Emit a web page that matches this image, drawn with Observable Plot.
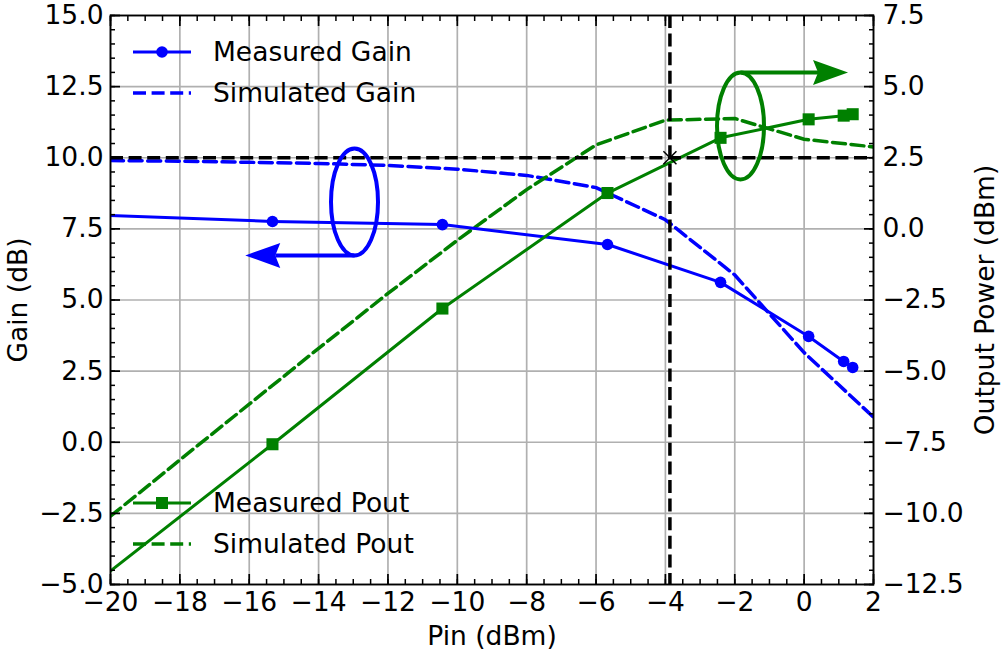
<!DOCTYPE html>
<html>
<head>
<meta charset="utf-8">
<script src="https://cdn.jsdelivr.net/npm/d3@7"></script>
<script src="https://cdn.jsdelivr.net/npm/@observablehq/plot@0.6"></script>
<style>
  body { margin: 0; background: #fff; }
  #chart svg { display: block; }
  #chart svg text { font-family: "DejaVu Sans", sans-serif; font-size: 26.5px; }
</style>
</head>
<body>
<div id="chart"></div>
<script>
// Measured input sweep (Pin in dBm), gain (dB) and output power (dBm)
const pinMeas  = [-25, -15.33, -10.43, -5.67, -2.41, 0.13, 1.14, 1.40];
const gainMeas = [8.20, 7.76, 7.65, 6.95, 5.62, 3.72, 2.84, 2.63];
const poutMeas = [-16.80, -7.57, -2.80, 1.26, 3.20, 3.85, 3.98, 4.03];

// Simulated sweep, 2 dB steps
const pinSim  = [-20, -18, -16, -14, -12, -10, -8, -6, -4, -2, 0, 2];
const gainSim = [9.90, 9.88, 9.84, 9.80, 9.73, 9.60, 9.38, 8.95, 7.82, 5.88, 3.15, 0.88];
const poutSim = [-10.10, -8.12, -6.16, -4.20, -2.27, -0.40, 1.38, 2.95, 3.82, 3.88, 3.15, 2.88];

// Reference lines: 10 dB gain target and the matching input level
const refGain = 10;
const refPin = -3.87;

// Axis ranges and tick values
const xTicks = d3.range(-20, 2.001, 2);
const xMinor = d3.range(-20, 2.001, 0.5);
const gainTicks = d3.range(-5, 15.001, 2.5);
const gainMinor = d3.range(-5, 15.001, 0.5);
// Output power axis is the gain axis shifted by this offset
const poutOffset = 7.5;

// Legend entries and annotation positions (data units)
const legendGain = ["Measured Gain", "Simulated Gain"];
const legendPout = ["Measured Pout", "Simulated Pout"];
const gainCallout = {pin: -12.95, gain: 8.43, tip: -16.1};
const poutCallout = {pin: -1.82, gain: 11.10, tip: 1.28};

const BLUE = "#0000ff", GREEN = "#008000";
const FONT = "DejaVu Sans, sans-serif";
const FS = 26.5;
const minus = s => s.replace(/-/g, "\u2212");

const measured = pinMeas.map((p, i) => ({pin: p, gain: gainMeas[i], pout: poutMeas[i]}));
const simulated = pinSim.map((p, i) => ({pin: p, gain: gainSim[i], pout: poutSim[i]}));

const dash = "13,5.6";
const blank = () => "";

const plot = Plot.plot({
  width: 1001,
  height: 655,
  marginLeft: 110,
  marginRight: 128,
  marginTop: 15,
  marginBottom: 71,
  style: {fontFamily: FONT, fontSize: FS + "px", color: "black", background: "white"},
  x: {domain: [-20, 2]},
  y: {domain: [-5, 15]},
  marks: [
    Plot.gridX(xTicks, {stroke: "#b0b0b0", strokeOpacity: 1, strokeWidth: 1.7}),
    Plot.gridY(gainTicks, {stroke: "#b0b0b0", strokeOpacity: 1, strokeWidth: 1.7}),

    // simulated curves
    Plot.line(simulated, {x: "pin", y: "gain", stroke: BLUE, strokeWidth: 3.5, strokeDasharray: dash, clip: "frame"}),
    Plot.line(simulated, {x: "pin", y: d => d.pout + poutOffset, stroke: GREEN, strokeWidth: 3.5, strokeDasharray: dash, clip: "frame"}),

    // measured curves with markers
    Plot.line(measured, {x: "pin", y: "gain", stroke: BLUE, strokeWidth: 3, clip: "frame"}),
    Plot.dot(measured, {x: "pin", y: "gain", r: 5.8, fill: BLUE, clip: "frame"}),
    Plot.line(measured, {x: "pin", y: d => d.pout + poutOffset, stroke: GREEN, strokeWidth: 3, clip: "frame"}),
    Plot.dot(measured, {x: "pin", y: d => d.pout + poutOffset, symbol: "square", r: 6.8, fill: GREEN, clip: "frame"}),

    // reference lines and crossing point
    Plot.ruleY([refGain], {stroke: "black", strokeWidth: 3.5, strokeDasharray: dash}),
    Plot.ruleX([refPin], {stroke: "black", strokeWidth: 3.5, strokeDasharray: dash}),
    Plot.dot([{pin: refPin, gain: refGain}], {x: "pin", y: "gain", symbol: "times", r: 6, stroke: "black", strokeWidth: 1.5}),

    Plot.frame({stroke: "black", strokeWidth: 1.8}),

    // inward ticks on all four sides
    Plot.axisX({ticks: xTicks, tickSize: -10, tickPadding: 18, strokeWidth: 1.7, fontSize: FS, tickFormat: d => minus(String(d)), label: null}),
    Plot.axisX({ticks: xMinor, tickSize: -5, strokeWidth: 1.5, tickFormat: blank, label: null}),
    Plot.axisX({anchor: "top", ticks: xTicks, tickSize: -10, strokeWidth: 1.7, tickFormat: blank, label: null}),
    Plot.axisX({anchor: "top", ticks: xMinor, tickSize: -5, strokeWidth: 1.5, tickFormat: blank, label: null}),
    Plot.axisY({ticks: gainTicks, tickSize: -10, tickPadding: 17, strokeWidth: 1.7, fontSize: FS, tickFormat: d => minus(d.toFixed(1)), label: null}),
    Plot.axisY({ticks: gainMinor, tickSize: -5, strokeWidth: 1.5, tickFormat: blank, label: null}),
    Plot.axisY({anchor: "right", ticks: gainTicks, tickSize: -10, tickPadding: 19, strokeWidth: 1.7, fontSize: FS, tickFormat: d => minus((d - poutOffset).toFixed(1)), label: null}),
    Plot.axisY({anchor: "right", ticks: gainMinor, tickSize: -5, strokeWidth: 1.5, tickFormat: blank, label: null}),

    // axis titles
    Plot.text(["Pin (dBm)"], {frameAnchor: "bottom", dy: 52, lineAnchor: "middle", fontSize: FS}),
    Plot.text(["Gain (dB)"], {frameAnchor: "left", dx: -92, rotate: -90, textAnchor: "middle", lineAnchor: "middle", fontSize: FS}),
    Plot.text(["Output Power (dBm)"], {frameAnchor: "right", dx: 112, rotate: -90, textAnchor: "middle", lineAnchor: "middle", fontSize: FS})
  ]
});

document.getElementById("chart").appendChild(plot);

// Legends and callouts drawn on top of the plot
const svg = d3.select(plot);
const sx = plot.scale("x"), sy = plot.scale("y");
const X = v => sx.apply(v), Y = v => sy.apply(v);
const frameLeft = X(-20), frameTop = Y(15), frameBottom = Y(-5);

function legend(entries, color, symbol, yFirst) {
  const g = svg.append("g")
    .attr("font-family", FONT).attr("font-size", FS).attr("text-anchor", "start");
  entries.forEach((label, i) => {
    const y = yFirst + i * 41;
    g.append("line")
      .attr("x1", frameLeft + 23).attr("x2", frameLeft + 81).attr("y1", y).attr("y2", y)
      .attr("stroke", color).attr("stroke-width", i === 0 ? 3 : 3.5)
      .attr("stroke-dasharray", i === 0 ? null : dash);
    if (i === 0) {
      if (symbol === "circle") {
        g.append("circle").attr("cx", frameLeft + 52).attr("cy", y).attr("r", 5.8).attr("fill", color);
      } else {
        g.append("rect").attr("x", frameLeft + 46).attr("y", y - 6).attr("width", 12).attr("height", 12).attr("fill", color);
      }
    }
    g.append("text").attr("x", frameLeft + 103).attr("y", y).attr("dy", "0.35em")
      .attr("fill", "black").text(label);
  });
}
legend(legendGain, BLUE, "circle", frameTop + 37);
legend(legendPout, GREEN, "square", frameBottom - 81);

function callout(c, color, fromTop) {
  const cx = X(c.pin), cy = Y(c.gain), rx = 23.5, ry = 53.5;
  const g = svg.append("g");
  g.append("ellipse").attr("cx", cx).attr("cy", cy).attr("rx", rx).attr("ry", ry)
    .attr("fill", "none").attr("stroke", color).attr("stroke-width", 4);
  const y = fromTop ? cy - ry : cy + ry;
  const tx = X(c.tip);
  const d = tx > cx ? 1 : -1;
  const L = 35, hw = 12.5, notch = 5;
  g.append("line").attr("x1", cx).attr("y1", y).attr("x2", tx - d * (L - notch)).attr("y2", y)
    .attr("stroke", color).attr("stroke-width", 4);
  g.append("path")
    .attr("d", `M${tx},${y} L${tx - d * L},${y - hw} L${tx - d * (L - notch)},${y} L${tx - d * L},${y + hw} Z`)
    .attr("fill", color);
}
callout(gainCallout, BLUE, false);
callout(poutCallout, GREEN, true);
</script>
</body>
</html>
